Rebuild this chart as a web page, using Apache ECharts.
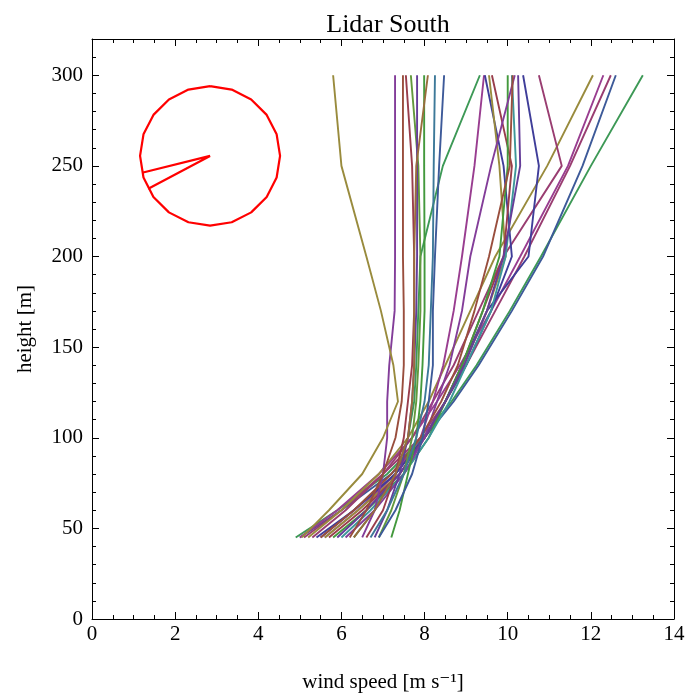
<!DOCTYPE html>
<html>
<head>
<meta charset="utf-8">
<script src="https://cdn.jsdelivr.net/npm/echarts@6/dist/echarts.min.js"></script>
<style>
html,body{margin:0;padding:0;background:#fff;}
#chart{width:688px;height:698px;}
</style>
</head>
<body>
<div id="chart"></div>
<script>
// ---- data ----
const heights = [45, 60, 80, 100, 120, 140, 170, 200, 250, 300];
const profile01 = [4.9, 5.9, 7.1, 7.95, 8.65, 9.25, 10.05, 10.8, 12.0, 13.25];
const profile02 = [5.0, 6.0, 7.2, 8.0, 8.7, 9.3, 10.1, 10.85, 11.8, 12.6];
const profile03 = [5.1, 6.0, 7.0, 7.9, 8.5, 9.0, 9.7, 10.4, 11.5, 12.48];
const profile04 = [5.0, 5.9, 6.9, 7.7, 8.3, 8.85, 9.6, 10.3, 11.45, 12.3];
const profile05 = [5.2, 6.0, 6.9, 7.6, 8.1, 8.5, 9.1, 9.7, 10.95, 12.05];
const profile06 = [5.3, 6.1, 7.0, 7.7, 8.2, 8.7, 9.3, 9.9, 11.3, 10.75];
const profile07 = [5.4, 6.3, 7.3, 8.0, 8.5, 8.9, 9.5, 10.5, 10.75, 10.37];
const profile08 = [6.3, 6.8, 7.3, 7.6, 7.75, 7.8, 7.85, 7.9, 8.44, 9.33];
const profile09 = [5.6, 6.4, 7.3, 7.9, 8.2, 8.45, 8.7, 8.9, 9.2, 9.43];
const profile10 = [5.5, 6.3, 7.3, 8.0, 8.5, 9.0, 9.6, 10.1, 9.9, 9.45];
const profile11 = [5.6, 6.4, 7.4, 8.0, 8.5, 8.95, 9.5, 9.95, 9.8, 9.55];
const profile12 = [5.7, 6.5, 7.4, 8.0, 8.5, 8.9, 9.4, 9.9, 10.1, 9.62];
const profile13 = [5.8, 6.6, 7.5, 8.1, 8.5, 8.9, 9.4, 9.8, 10.0, 10.0];
const profile14 = [6.0, 6.7, 7.5, 8.1, 8.6, 9.0, 9.6, 9.95, 10.2, 10.1];
const profile15 = [5.9, 6.6, 7.4, 8.0, 8.5, 8.95, 9.5, 9.9, 10.3, 10.25];
const profile16 = [6.1, 6.8, 7.5, 8.0, 8.3, 8.6, 8.9, 9.1, 9.6, 10.17];
const profile17 = [5.5, 6.3, 7.2, 7.9, 8.4, 8.8, 9.2, 9.55, 10.05, 10.12];
const profile18 = [6.5, 6.8, 7.0, 7.1, 7.1, 7.15, 7.28, 7.29, 7.29, 7.29];
const profile19 = [6.2, 6.6, 7.0, 7.3, 7.45, 7.5, 7.5, 7.48, 7.48, 7.48];
const profile20 = [6.6, 7.0, 7.3, 7.5, 7.6, 7.7, 7.75, 7.75, 7.7, 7.55];
const profile21 = [6.9, 7.2, 7.5, 7.7, 7.8, 7.85, 7.9, 7.9, 7.85, 7.67];
const profile22 = [6.8, 7.1, 7.4, 7.6, 7.7, 7.75, 7.8, 7.82, 7.82, 7.82];
const profile23 = [7.2, 7.4, 7.6, 7.8, 7.9, 7.95, 8.0, 8.0, 7.99, 7.99];
const profile24 = [6.3, 6.8, 7.3, 7.6, 7.7, 7.75, 7.75, 7.75, 7.8, 8.08];
const profile25 = [6.7, 7.1, 7.5, 7.8, 8.0, 8.1, 8.15, 8.2, 8.22, 8.25];
const profile26 = [6.9, 7.3, 7.7, 7.95, 8.1, 8.2, 8.2, 8.25, 8.35, 8.47];
const profile27 = [5.05, 5.7, 6.5, 7.0, 7.36, 7.25, 6.95, 6.6, 6.0, 5.8];
const windArrowAngles = [194, 208]; // degrees of the two arrow edges
const xTicks = [0, 2, 4, 6, 8, 10, 12, 14];
const yTicks = [0, 50, 100, 150, 200, 250, 300];

const profiles = [profile01, profile02, profile03, profile04, profile05, profile06, profile07,
  profile08, profile09, profile10, profile11, profile12, profile13, profile14, profile15,
  profile16, profile17, profile18, profile19, profile20, profile21, profile22, profile23,
  profile24, profile25, profile26, profile27];

// ---- style ----
const lineColors = ['#3d9956','#3d5a99','#993d71','#993d90','#998b3d','#993d71','#3f3d99',
  '#3d9956','#993d90','#3f3d99','#998b3d','#993d4b','#43993d','#3d9799','#653d99',
  '#833d99','#994e3d','#833d99','#994e3d','#993d4b','#62993d','#653d99','#43993d',
  '#996d3d','#3d7999','#3d5a99','#998b3d'];
const FONT = '"Liberation Serif", "DejaVu Serif", serif';
const compassCentre = [2.84, 255.5];
const compassRx = 1.684, compassRy = 38.5;

const series = profiles.map((p, i) => ({
  type: 'line',
  data: p.map((v, j) => [v, heights[j]]),
  showSymbol: false,
  symbol: 'none',
  lineStyle: { width: 1.9, color: lineColors[i] },
  itemStyle: { color: lineColors[i] },
  silent: true,
  z: 2
}));

// compass circle (decoration)
const circ = [];
for (let k = 0; k <= 20; k++) {
  const t = k / 20 * 2 * Math.PI + Math.PI / 2;
  circ.push([compassCentre[0] + compassRx * Math.cos(t), compassCentre[1] + compassRy * Math.sin(t)]);
}
series.push({ type: 'line', data: circ, showSymbol: false, symbol: 'none',
  lineStyle: { width: 2.2, color: '#ff0000' }, silent: true, z: 3 });
const arrow = [];
const a1 = windArrowAngles[0] * Math.PI / 180, a2 = windArrowAngles[1] * Math.PI / 180;
arrow.push([compassCentre[0] + compassRx * Math.cos(a1), compassCentre[1] + compassRy * Math.sin(a1)]);
arrow.push(compassCentre.slice());
arrow.push([compassCentre[0] + compassRx * Math.cos(a2), compassCentre[1] + compassRy * Math.sin(a2)]);
series.push({ type: 'line', data: arrow, showSymbol: false, symbol: 'none',
  lineStyle: { width: 2.2, color: '#ff0000' }, silent: true, z: 3 });

const black = '#000';
function xAx(pos, labels) {
  return {
    type: 'value', position: pos, min: 0, max: 14, interval: 2,
    axisLine: { show: true, onZero: false, lineStyle: { color: black, width: 1 } },
    axisTick: { show: true, inside: true, length: 7, lineStyle: { color: black } },
    minorTick: { show: true, splitNumber: 4, length: 4, lineStyle: { color: black } },
    splitLine: { show: false },
    axisLabel: { show: labels, color: black, fontFamily: FONT, fontSize: 21, margin: 5,
      formatter: v => xTicks.includes(v) ? String(v) : '' },
    name: labels ? 'wind speed [m s\u207B\u00B9]' : '',
    nameLocation: 'middle', nameGap: 53,
    nameTextStyle: { color: black, fontFamily: FONT, fontSize: 21 }
  };
}
function yAx(pos, interval, tickLen, labels, line) {
  return {
    type: 'value', position: pos, min: 0, max: 320, interval: interval,
    axisLine: { show: line, onZero: false, lineStyle: { color: black, width: 1 } },
    axisTick: { show: true, inside: true, length: tickLen, lineStyle: { color: black } },
    splitLine: { show: false },
    axisLabel: { show: labels, color: black, fontFamily: FONT, fontSize: 21, margin: 9,
      formatter: v => yTicks.includes(v) ? String(v) : '' },
    name: labels ? 'height [m]' : '',
    nameLocation: 'middle', nameGap: 56, nameRotate: 90,
    nameTextStyle: { color: black, fontFamily: FONT, fontSize: 21 }
  };
}

const chart = echarts.init(document.getElementById('chart'), null, { renderer: 'canvas' });
chart.setOption({
  animation: false,
  backgroundColor: '#fff',
  title: { text: 'Lidar South', left: 383, top: 7, textAlign: 'center',
    textStyle: { fontFamily: FONT, fontSize: 26, fontWeight: 'normal', color: black } },
  grid: { left: 92, right: 14, top: 39, bottom: 77, containLabel: false },
  xAxis: [xAx('bottom', true), xAx('top', false)],
  yAxis: [
    yAx('left', 10, 4, true, true),
    yAx('right', 10, 4, false, true),
    yAx('left', 50, 7, false, false),
    yAx('right', 50, 7, false, false)
  ],
  series: series
});
</script>
</body>
</html>
